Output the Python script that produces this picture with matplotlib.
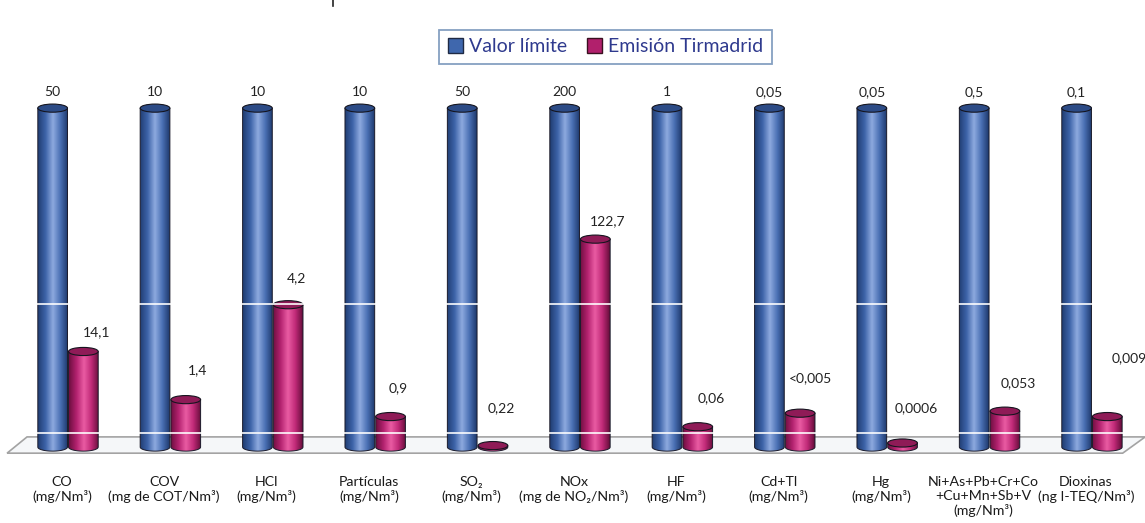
import numpy as np
import matplotlib.pyplot as plt
from matplotlib.colors import LinearSegmentedColormap
from matplotlib.patches import Ellipse, Polygon, Patch
from matplotlib.lines import Line2D

plt.rcParams['font.family'] = ['Lato', 'DejaVu Sans']

# datos: valores límite y emisiones medidas
categorias = ['CO\n(mg/Nm³)', 'COV\n(mg de COT/Nm³)', 'HCl\n(mg/Nm³)',
              'Partículas\n(mg/Nm³)', 'SO₂\n(mg/Nm³)', 'NOx\n(mg de NO₂/Nm³)',
              'HF\n(mg/Nm³)', 'Cd+Tl\n(mg/Nm³)', 'Hg\n(mg/Nm³)',
              'Ni+As+Pb+Cr+Co\n+Cu+Mn+Sb+V\n(mg/Nm³)', 'Dioxinas\n(ng I-TEQ/Nm³)']
valor_limite = [50, 10, 10, 10, 50, 200, 1, 0.05, 0.05, 0.5, 0.1]
emision = [14.1, 1.4, 4.2, 0.9, 0.22, 122.7, 0.06, 0.005, 0.0006, 0.053, 0.009]
etiq_limite = ['50', '10', '10', '10', '50', '200', '1', '0,05', '0,05', '0,5', '0,1']
etiq_emision = ['14,1', '1,4', '4,2', '0,9', '0,22', '122,7', '0,06', '<0,005',
                '0,0006', '0,053', '0,009']

# posición de cada etiqueta de emisión respecto a su cilindro
label_dy = [5.7, 8.7, 7.9, 8.4, 11.1, 5.3, 8.5, 10.4, 10.3, 8.3, 17.3]
label_dx = [0.13, 0.12, 0.08, 0.07, 0.08, 0.12, 0.13, 0.10, 0.13, 0.13, 0.21]

# altura en % del valor límite
pct_limite = np.array(valor_limite) / np.array(valor_limite) * 100
pct_emision = np.array(emision) / np.array(valor_limite) * 100

fig = plt.figure(figsize=(11.45, 5.23), dpi=100)
ax = fig.add_axes([0, 0, 1, 1])
ax.set_xlim(-0.664, 10.518)
ax.set_ylim(-22.4, 131.9)
ax.axis('off')

azul = LinearSegmentedColormap.from_list('azul', ['#203d73', '#3d63a8', '#8eaadf', '#4a70b4', '#1d386b'])
rosa = LinearSegmentedColormap.from_list('rosa', ['#6e0f40', '#b3226f', '#ea5ca3', '#c02a78', '#650d3a'])

W = 0.29   # ancho del cilindro
EH = 2.4   # alto de la elipse


def cilindro(x, h, cmap, tapa, zo=3):
    t = np.linspace(np.pi, 2 * np.pi, 40)
    base = np.column_stack([x + W / 2 * np.cos(t), EH / 2 * np.sin(t)])
    pts = np.vstack([[x - W / 2, h], base, [x + W / 2, h]])
    silueta = Polygon(pts, closed=True, facecolor='none', edgecolor='#1a1a2a', lw=0.7, zorder=zo + 0.2)
    ax.add_patch(silueta)
    grad = np.linspace(0, 1, 128).reshape(1, -1)
    im = ax.imshow(grad, cmap=cmap, extent=(x - W / 2, x + W / 2, -EH / 2, h),
                   aspect='auto', origin='lower', zorder=zo, interpolation='bilinear')
    im.set_clip_path(silueta)
    ax.add_patch(Ellipse((x, h), W, EH, facecolor=tapa, edgecolor='#15151f', lw=0.8, zorder=zo + 0.3))


# suelo en perspectiva
suelo = Polygon([[-0.40, 3.0], [10.52, 3.0], [10.30, -1.8], [-0.595, -1.8]], closed=True,
                facecolor='#f5f7f9', edgecolor='#a3a3a3', lw=1.2, zorder=1)
ax.add_patch(suelo)

x = np.arange(len(categorias))
for i in x:
    cilindro(i - 0.15, pct_limite[i], azul, '#2c4b86')
    cilindro(i + 0.15, pct_emision[i], rosa, '#8f1b57')
    ax.text(i - 0.15, pct_limite[i] + 4.7, etiq_limite[i], ha='center', va='center',
            fontsize=10, color='#222222')
    ax.text(i + 0.15 + label_dx[i], pct_emision[i] + label_dy[i], etiq_emision[i],
            ha='center', va='center', fontsize=10, color='#222222')
    ax.text(i - 0.06, -8.4, categorias[i], ha='center', va='top', fontsize=10.2,
            color='#1a1a1a', linespacing=1.2)

# líneas de división blancas sobre los cilindros
for g in [4.1, 42.2]:
    ax.plot([-0.5, 10.4], [g, g], color='white', lw=1.3, alpha=0.9, zorder=5)

handles = [Patch(facecolor='#3f67ad', edgecolor='#1f2a44', label='Valor límite'),
           Patch(facecolor='#b1206c', edgecolor='#3a1020', label='Emisión Tirmadrid')]
leg = fig.legend(handles=handles, loc='upper center', bbox_to_anchor=(0.529, 0.962), ncol=2,
                 fancybox=False, shadow=False, fontsize=14, handlelength=0.75, handleheight=0.75,
                 handletextpad=0.35, columnspacing=1.0, borderpad=0.45, framealpha=1)
leg.get_frame().set_edgecolor('#86a0c2')
leg.get_frame().set_linewidth(1.3)
for t in leg.get_texts():
    t.set_color('#2f3a8e')

fig.add_artist(Line2D([333 / 1145, 333 / 1145], [1, 1 - 6 / 523], color='#222222', lw=1.2))

plt.savefig('out.png', dpi=100)
